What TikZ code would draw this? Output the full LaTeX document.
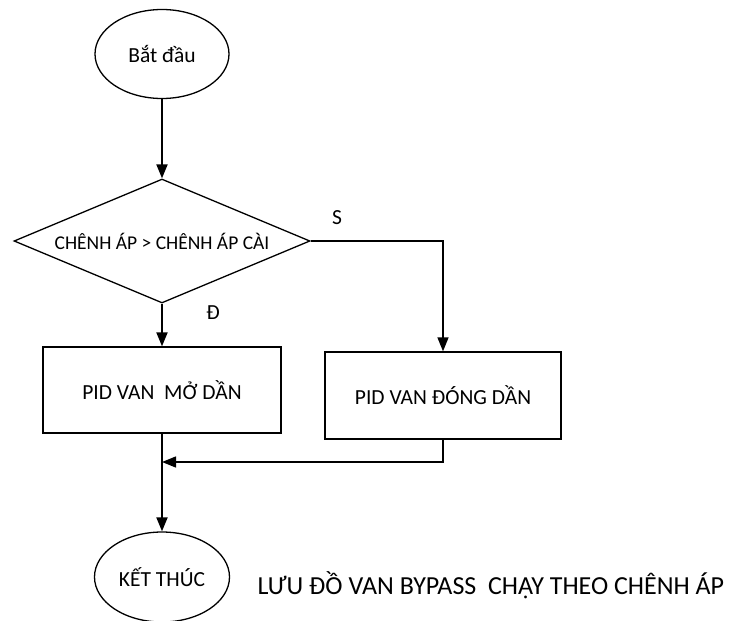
\documentclass[tikz,border=0pt]{standalone}
\usepackage{fontspec}
\setmainfont{Carlito}
\usetikzlibrary{arrows.meta,shapes.geometric}
\begin{document}
\begin{tikzpicture}[x=1pt,y=-1pt,
  every node/.style={font=\fontsize{21.5pt}{25pt}\selectfont},
  shapeline/.style={draw=black,line width=1.3pt},
  terminal/.style={shapeline,ellipse,inner sep=0pt,minimum width=134pt,minimum height=89pt},
  process/.style={shapeline,rectangle,inner sep=0pt},
  decision/.style={shapeline,diamond,inner sep=0pt,minimum width=296pt,minimum height=124pt},
  tip/.style={-{Triangle[length=14pt,width=11pt]}},
  mainflow/.style={line width=2pt,tip},
  sideflow/.style={line width=1.4pt,tip}]
\useasboundingbox (0,0) rectangle (731,621);

% shapes
\node[terminal] (start) at (162,54) {Bắt đầu};
\node[decision, label={[font=\fontsize{19.5pt}{23pt}\selectfont]center:{CHÊNH ÁP > CHÊNH ÁP CÀI}}] (cmp) at (162,241) {};
\node[process,minimum width=238pt,minimum height=86pt] (open) at (162,390) {PID VAN\ \ MỞ DẦN};
\node[process,minimum width=236pt,minimum height=87pt] (close) at (443,395.5) {PID VAN ĐÓNG DẦN};
\node[terminal,minimum width=135pt,minimum height=90pt] (stop) at (162,577) {KẾT THÚC};
\coordinate (merge) at (162,462);

% branch labels
\node (yes) at (213,313) {Đ};
\node (no) at (337,218) {S};

% connectors
\draw[mainflow] (start) -- (cmp);
\draw[mainflow] (cmp) -- (open);
\draw[sideflow] (cmp.east) -| (close.north);
\draw[line width=2pt] (open.south) -- (merge);
\draw[sideflow] (close.south) |- (merge);
\draw[mainflow] (merge) -- (stop);

% caption
\node[anchor=west,font=\fontsize{26pt}{30pt}\selectfont] (caption) at (254,585) {LƯU ĐỒ VAN BYPASS\ \ CHẠY THEO CHÊNH ÁP};
\end{tikzpicture}
\end{document}
